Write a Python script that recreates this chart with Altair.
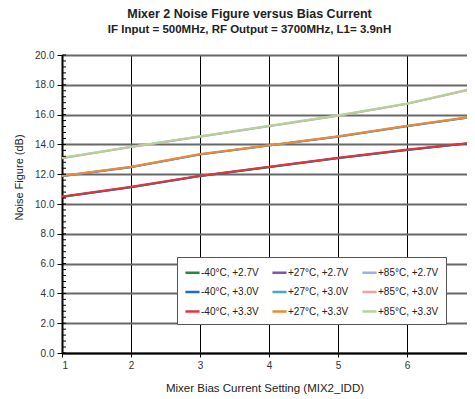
import altair as alt
import pandas as pd

x_vals = [1, 2, 3, 4, 5, 6, 7]
draw_order = [
    "-40°C, +2.7V", "-40°C, +3.0V", "-40°C, +3.3V",
    "+27°C, +2.7V", "+27°C, +3.0V", "+27°C, +3.3V",
    "+85°C, +2.7V", "+85°C, +3.0V", "+85°C, +3.3V",
]
series_colors = [
    "#1e8a44", "#1f6fb4", "#e8323a",
    "#7b5ba6", "#45a9c6", "#ef8a33",
    "#98b4de", "#e8a3a3", "#b4d399",
]
cold = [10.5, 11.15, 11.9, 12.5, 13.1, 13.65, 14.15]
room = [11.9, 12.5, 13.35, 13.95, 14.55, 15.25, 15.9]
hot = [13.1, 13.85, 14.55, 15.25, 15.95, 16.75, 17.8]
series_values = {
    "-40°C, +2.7V": [v - 0.03 for v in cold],
    "-40°C, +3.0V": [v - 0.02 for v in cold],
    "-40°C, +3.3V": cold,
    "+27°C, +2.7V": [v - 0.03 for v in room],
    "+27°C, +3.0V": [v - 0.02 for v in room],
    "+27°C, +3.3V": room,
    "+85°C, +2.7V": [v - 0.03 for v in hot],
    "+85°C, +3.0V": [v - 0.02 for v in hot],
    "+85°C, +3.3V": hot,
}
y_ticks = [0, 2, 4, 6, 8, 10, 12, 14, 16, 18, 20]
minor_ticks = [round(i * 0.4, 1) for i in range(51)]

rows = []
for i, name in enumerate(draw_order):
    for x, y in zip(x_vals, series_values[name]):
        rows.append({"x": x, "nf": y, "series": name, "order": i})
df = pd.DataFrame(rows)

font = "Liberation Sans"

x_axis = alt.Axis(values=x_vals, format="d", title="Mixer Bias Current Setting (MIX2_IDD)",
                  grid=True, gridColor="#000000", gridWidth=1,
                  domainColor="#000000", domainWidth=2, tickColor="#000000",
                  tickSize=4, labelFontSize=10, labelColor="#333333", labelPadding=3,
                  titleFontSize=11.5, titleFontWeight="normal", titleColor="#222222",
                  titlePadding=12, labelOverlap=False)
y_axis = alt.Axis(values=y_ticks, format=".1f", labelOverlap=False,
                  title="Noise Figure (dB)", grid=True, gridColor="#686868", gridWidth=2,
                  domainColor="#000000", domainWidth=2, tickColor="#000000",
                  tickSize=5, labelFontSize=10, labelColor="#333333", labelPadding=3,
                  titleFontSize=11, titleFontWeight="normal", titleColor="#222222",
                  titlePadding=10, titleY=122)
x_scale = alt.Scale(domain=[1, 6.87], nice=False)
y_scale = alt.Scale(domain=[0, 20], nice=False)

lines = alt.Chart(df).mark_line(strokeWidth=2, clip=True).encode(
    x=alt.X("x:Q", scale=x_scale, axis=x_axis),
    y=alt.Y("nf:Q", scale=y_scale, axis=y_axis),
    color=alt.Color("series:N", scale=alt.Scale(domain=draw_order, range=series_colors),
                    sort=draw_order,
                    legend=alt.Legend(title=None, orient="none", legendX=115, legendY=202,
                                      columns=3, symbolType="stroke", symbolStrokeWidth=2.5,
                                      symbolSize=200, labelFontSize=10, labelFont=font,
                                      labelOffset=0, columnPadding=8, rowPadding=5.5,
                                      padding=7, strokeColor="#555555", fillColor="#ffffff",
                                      labelColor="#222222")),
    order=alt.Order("order:Q"),
)

minor = alt.Chart(pd.DataFrame({"m": minor_ticks})).mark_rule(color="#000000", strokeWidth=1).encode(
    y=alt.Y("m:Q", scale=y_scale, axis=y_axis), x=alt.value(0), x2=alt.value(4)
)

chart = alt.layer(lines, minor).properties(
    width=405, height=298,
    padding={"left": 5, "top": 0, "right": 0, "bottom": 5},
    title=alt.TitleParams(
        "Mixer 2 Noise Figure versus Bias Current",
        subtitle="IF Input = 500MHz, RF Output = 3700MHz, L1= 3.9nH",
        fontSize=12.5, subtitleFontSize=11.5, subtitleFontWeight="bold",
        font=font, subtitleFont=font, color="#222222", subtitleColor="#222222",
        anchor="middle", dx=-15, dy=-4, offset=11, subtitlePadding=3,
    ),
).configure_view(stroke=None).configure_axis(labelFont=font, titleFont=font)

chart.save("out.html", embed_options={"renderer": "svg", "actions": False})
